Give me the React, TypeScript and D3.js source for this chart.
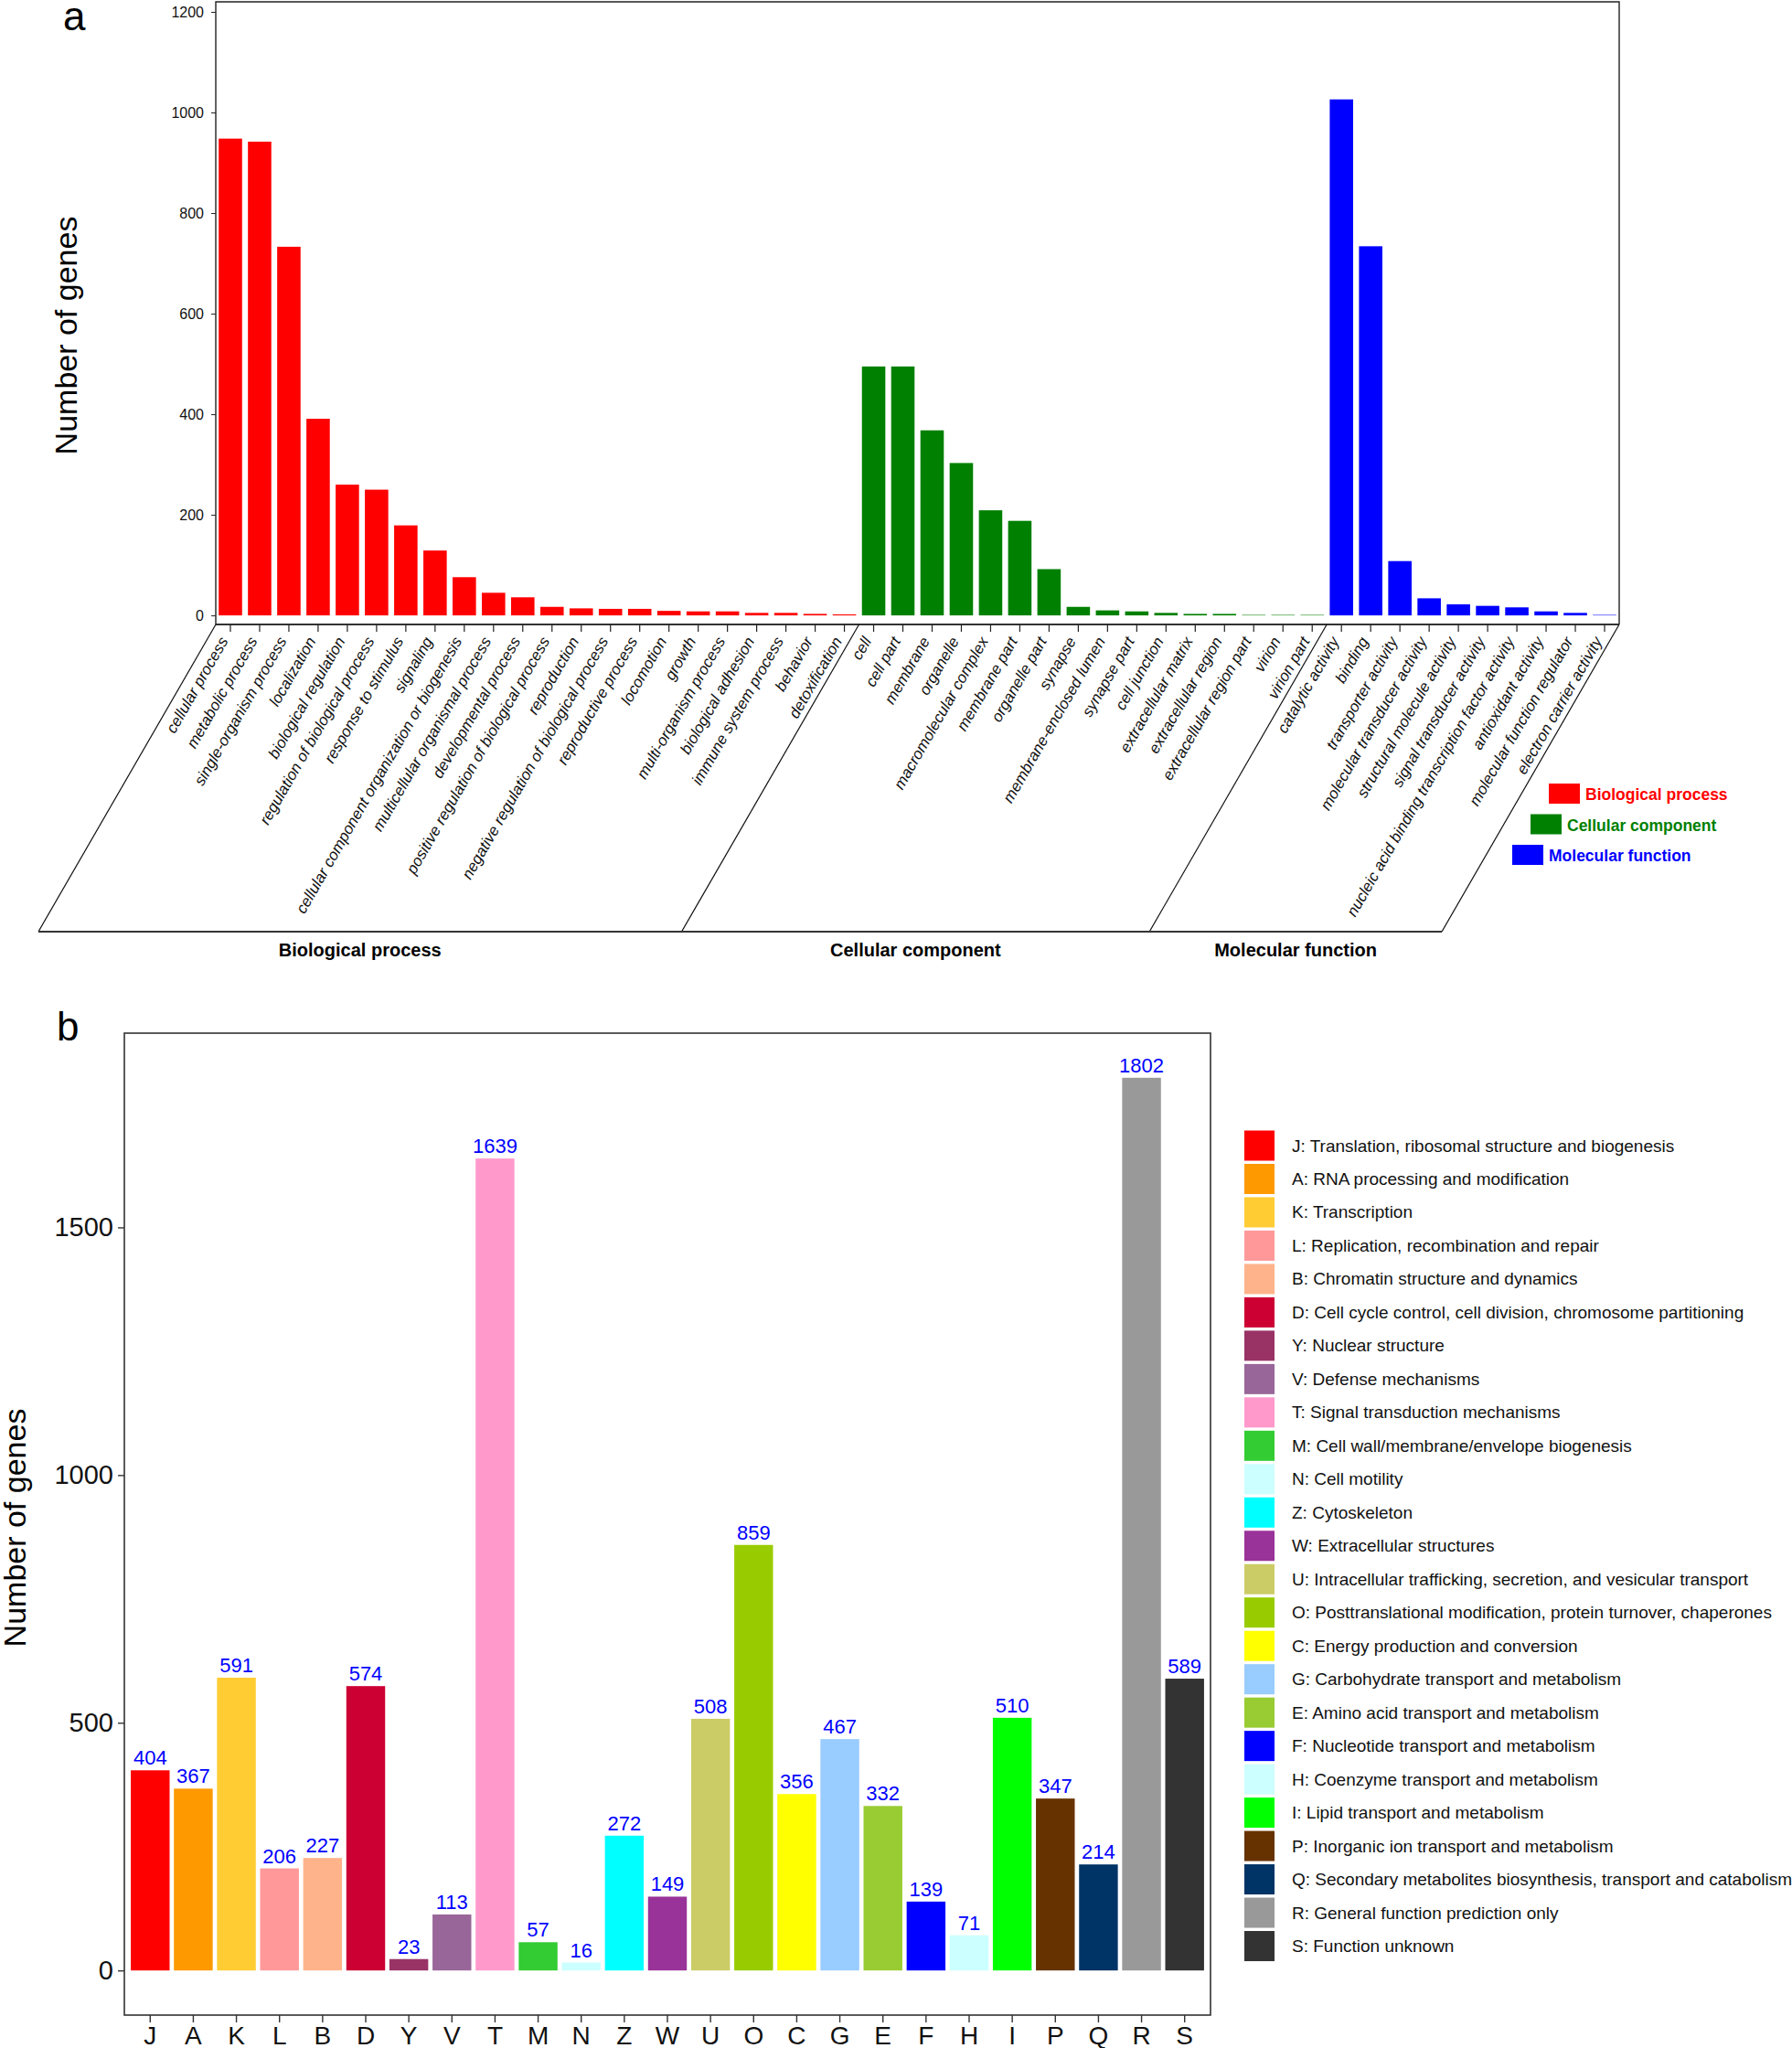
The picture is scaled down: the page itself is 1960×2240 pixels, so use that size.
import React, { useEffect, useRef } from 'react';
import * as d3 from 'd3';

const W = 1960;
const H = 2240;
const FONT = "'Liberation Sans', Arial, Helvetica, sans-serif";

// ---- panel a: GO annotation ----
const bpTerms = [
  'cellular process', 'metabolic process', 'single-organism process', 'localization',
  'biological regulation', 'regulation of biological process', 'response to stimulus', 'signaling',
  'cellular component organization or biogenesis', 'multicellular organismal process',
  'developmental process', 'positive regulation of biological process', 'reproduction',
  'negative regulation of biological process', 'reproductive process', 'locomotion', 'growth',
  'multi-organism process', 'biological adhesion', 'immune system process', 'behavior', 'detoxification',
];
const bpCounts = [948, 942, 733, 391, 260, 250, 179, 129, 76, 45, 36, 17, 14, 13, 13, 9, 8, 8, 5, 5, 3, 2];

const ccTerms = [
  'cell', 'cell part', 'membrane', 'organelle', 'macromolecular complex', 'membrane part',
  'organelle part', 'synapse', 'membrane-enclosed lumen', 'synapse part', 'cell junction',
  'extracellular matrix', 'extracellular region', 'extracellular region part', 'virion', 'virion part',
];
const ccCounts = [495, 495, 368, 303, 209, 188, 92, 17, 10, 8, 5, 3, 3, 1, 1, 1];

const mfTerms = [
  'catalytic activity', 'binding', 'transporter activity', 'molecular transducer activity',
  'structural molecule activity', 'signal transducer activity',
  'nucleic acid binding transcription factor activity', 'antioxidant activity',
  'molecular function regulator', 'electron carrier activity',
];
const mfCounts = [1026, 734, 108, 34, 22, 19, 16, 8, 5, 1];

const goGroups = ['Biological process', 'Cellular component', 'Molecular function'];
const goColors = ['#FF0000', '#008000', '#0000FF'];
const goTicks = [0, 200, 400, 600, 800, 1000, 1200];

// ---- panel b: COG classification ----
const cogCodes = ['J', 'A', 'K', 'L', 'B', 'D', 'Y', 'V', 'T', 'M', 'N', 'Z', 'W', 'U', 'O', 'C', 'G', 'E', 'F', 'H', 'I', 'P', 'Q', 'R', 'S'];
const cogCounts = [404, 367, 591, 206, 227, 574, 23, 113, 1639, 57, 16, 272, 149, 508, 859, 356, 467, 332, 139, 71, 510, 347, 214, 1802, 589];
const cogNames = [
  'Translation, ribosomal structure and biogenesis',
  'RNA processing and modification',
  'Transcription',
  'Replication, recombination and repair',
  'Chromatin structure and dynamics',
  'Cell cycle control, cell division, chromosome partitioning',
  'Nuclear structure',
  'Defense mechanisms',
  'Signal transduction mechanisms',
  'Cell wall/membrane/envelope biogenesis',
  'Cell motility',
  'Cytoskeleton',
  'Extracellular structures',
  'Intracellular trafficking, secretion, and vesicular transport',
  'Posttranslational modification, protein turnover, chaperones',
  'Energy production and conversion',
  'Carbohydrate transport and metabolism',
  'Amino acid transport and metabolism',
  'Nucleotide transport and metabolism',
  'Coenzyme transport and metabolism',
  'Lipid transport and metabolism',
  'Inorganic ion transport and metabolism',
  'Secondary metabolites biosynthesis, transport and catabolism',
  'General function prediction only',
  'Function unknown',
];
const cogColors = [
  '#FF0000', '#FF9900', '#FFCC33', '#FF9999', '#FFB38A', '#CC0033', '#993366', '#996699',
  '#FF99CC', '#33CC33', '#CCFFFF', '#00FFFF', '#993399', '#CCCC66', '#99CC00', '#FFFF00',
  '#99CCFF', '#99CC33', '#0000FF', '#CCFFFF', '#00FF00', '#663300', '#003366', '#999999', '#333333',
];
const cogTicks = [0, 500, 1000, 1500];

export default function App() {
  const ref = useRef<SVGSVGElement>(null);

  useEffect(() => {
    const svg = d3.select(ref.current);
    svg.selectAll('*').remove();
    svg.append('rect').attr('width', W).attr('height', H).attr('fill', '#fff');
    const plain = (d: any) => String(d);

    // ================= panel a =================
    const goData = [
      ...bpTerms.map((t, i) => ({ term: t, n: bpCounts[i], g: 0 })),
      ...ccTerms.map((t, i) => ({ term: t, n: ccCounts[i], g: 1 })),
      ...mfTerms.map((t, i) => ({ term: t, n: mfCounts[i], g: 2 })),
    ];
    const ax0 = 236, ax1 = 1771, ay0 = 683, ay1 = 2, baseY = 1019;
    const xa = d3.scaleBand().domain(goData.map(d => d.term)).range([ax0, ax1]).paddingInner(0.2).paddingOuter(0.1);
    const ya = d3.scaleLinear().domain([-18, 1220]).range([ay0, ay1]);
    const slant = (baseY - ay0) / Math.tan(Math.PI / 3);

    const ga = svg.append('g').attr('font-family', FONT);

    ga.selectAll('rect.bar')
      .data(goData)
      .enter()
      .append('rect')
      .attr('x', d => xa(d.term)!)
      .attr('width', xa.bandwidth())
      .attr('y', d => ya(d.n))
      .attr('height', d => ya(0) - ya(d.n))
      .attr('fill', d => goColors[d.g]);

    // frame
    ga.append('path')
      .attr('d', `M${ax0},${ay0}V${ay1}H${ax1}V${ay0}`)
      .attr('fill', 'none').attr('stroke', '#222').attr('stroke-width', 1.4);
    ga.append('line')
      .attr('x1', ax0).attr('x2', ax1).attr('y1', ay0).attr('y2', ay0)
      .attr('stroke', '#333').attr('stroke-width', 2);

    // y axis
    const yAxA = ga.append('g')
      .attr('transform', `translate(${ax0},0)`)
      .call(d3.axisLeft(ya).tickValues(goTicks).tickFormat(plain).tickSize(5).tickPadding(8));
    yAxA.select('.domain').remove();
    yAxA.selectAll('text').attr('font-size', 16).attr('font-family', FONT).attr('fill', '#111');
    yAxA.selectAll('line').attr('stroke', '#222');

    ga.append('text')
      .attr('transform', 'translate(84,367) rotate(-90)')
      .attr('text-anchor', 'middle').attr('font-size', 34).attr('fill', '#000')
      .text('Number of genes');
    ga.append('text').attr('x', 69).attr('y', 33).attr('font-size', 44).text('a');

    // x ticks + slanted labels
    const cx = (t: string) => xa(t)! + xa.bandwidth() / 2;
    ga.selectAll('line.xt')
      .data(goData)
      .enter()
      .append('line')
      .attr('x1', d => cx(d.term)).attr('x2', d => cx(d.term))
      .attr('y1', ay0).attr('y2', ay0 + 8)
      .attr('stroke', '#222').attr('stroke-width', 1.2);
    ga.selectAll('text.xl')
      .data(goData)
      .enter()
      .append('text')
      .attr('transform', d => `translate(${cx(d.term) - 2},${ay0 + 18}) rotate(-60)`)
      .attr('text-anchor', 'end')
      .attr('font-size', 17)
      .attr('font-style', 'italic')
      .attr('fill', '#111')
      .text(d => d.term);

    // group boundaries: slanted lines down to the base line
    const step = xa.step();
    const bounds = [
      ax0,
      xa(ccTerms[0])! - step * 0.1,
      xa(mfTerms[0])! - step * 0.1,
      ax1,
    ];
    bounds.forEach(b => {
      ga.append('line')
        .attr('x1', b).attr('y1', ay0)
        .attr('x2', b - slant).attr('y2', baseY)
        .attr('stroke', '#111').attr('stroke-width', 1.2);
    });
    ga.append('line')
      .attr('x1', ax0 - slant).attr('x2', ax1 - slant)
      .attr('y1', baseY).attr('y2', baseY)
      .attr('stroke', '#333').attr('stroke-width', 2);
    goGroups.forEach((g, i) => {
      ga.append('text')
        .attr('x', (bounds[i] + bounds[i + 1]) / 2 - slant)
        .attr('y', baseY + 27)
        .attr('text-anchor', 'middle')
        .attr('font-size', 20).attr('font-weight', 'bold')
        .text(g);
    });

    // legend a
    goGroups.forEach((g, i) => {
      const lx = 1694 - 20 * i;
      const ly = 857 + 33.5 * i;
      ga.append('rect').attr('x', lx).attr('y', ly).attr('width', 34).attr('height', 22).attr('fill', goColors[i]);
      ga.append('text')
        .attr('x', lx + 40).attr('y', ly + 18)
        .attr('font-size', 17.5).attr('font-weight', 'bold')
        .attr('fill', goColors[i])
        .text(g);
    });

    // ================= panel b =================
    const bx0 = 136, bx1 = 1324, by0 = 2204, by1 = 1130;
    const xb = d3.scaleBand().domain(cogCodes).range([bx0, bx1]).paddingInner(0.1).paddingOuter(0.15);
    const yb = d3.scaleLinear().domain([-90.1, 1892.1]).range([by0, by1]);
    const gb = svg.append('g').attr('font-family', FONT);

    gb.selectAll('rect.bar')
      .data(cogCodes)
      .enter()
      .append('rect')
      .attr('x', d => xb(d)!)
      .attr('width', xb.bandwidth())
      .attr('y', (d, i) => yb(cogCounts[i]))
      .attr('height', (d, i) => yb(0) - yb(cogCounts[i]))
      .attr('fill', (d, i) => cogColors[i]);

    gb.selectAll('text.val')
      .data(cogCodes)
      .enter()
      .append('text')
      .attr('x', d => xb(d)! + xb.bandwidth() / 2)
      .attr('y', (d, i) => yb(cogCounts[i]) - 6)
      .attr('text-anchor', 'middle')
      .attr('font-size', 22)
      .attr('fill', '#0000FF')
      .text((d, i) => cogCounts[i]);

    gb.append('rect')
      .attr('x', bx0).attr('y', by1).attr('width', bx1 - bx0).attr('height', by0 - by1)
      .attr('fill', 'none').attr('stroke', '#333').attr('stroke-width', 1.6);

    const yAxB = gb.append('g')
      .attr('transform', `translate(${bx0},0)`)
      .call(d3.axisLeft(yb).tickValues(cogTicks).tickFormat(plain).tickSize(7).tickPadding(5));
    yAxB.select('.domain').remove();
    yAxB.selectAll('text').attr('font-size', 29).attr('font-family', FONT).attr('fill', '#111');
    yAxB.selectAll('line').attr('stroke', '#333').attr('stroke-width', 1.4);

    const xAxB = gb.append('g')
      .attr('transform', `translate(0,${by0})`)
      .call(d3.axisBottom(xb).tickSize(8).tickPadding(4));
    xAxB.select('.domain').remove();
    xAxB.selectAll('text').attr('font-size', 28).attr('font-family', FONT).attr('fill', '#111');
    xAxB.selectAll('line').attr('stroke', '#333').attr('stroke-width', 1.4);

    gb.append('text')
      .attr('transform', 'translate(28,1671) rotate(-90)')
      .attr('text-anchor', 'middle').attr('font-size', 34)
      .text('Number of genes');
    gb.append('text').attr('x', 62).attr('y', 1138).attr('font-size', 44).text('b');

    // legend b
    const legStep = 36.48;
    cogCodes.forEach((c, i) => {
      const ly = 1236.5 + legStep * i;
      gb.append('rect').attr('x', 1361).attr('y', ly).attr('width', 33).attr('height', 33).attr('fill', cogColors[i]);
      gb.append('text')
        .attr('x', 1413).attr('y', ly + 16.5 + 6.5)
        .attr('font-size', 19).attr('fill', '#111')
        .text(`${c}: ${cogNames[i]}`);
    });
  }, []);

  return (
    <svg
      ref={ref}
      width={W}
      height={H}
      style={{ position: 'absolute', left: 0, top: 0, display: 'block' }}
    />
  );
}
